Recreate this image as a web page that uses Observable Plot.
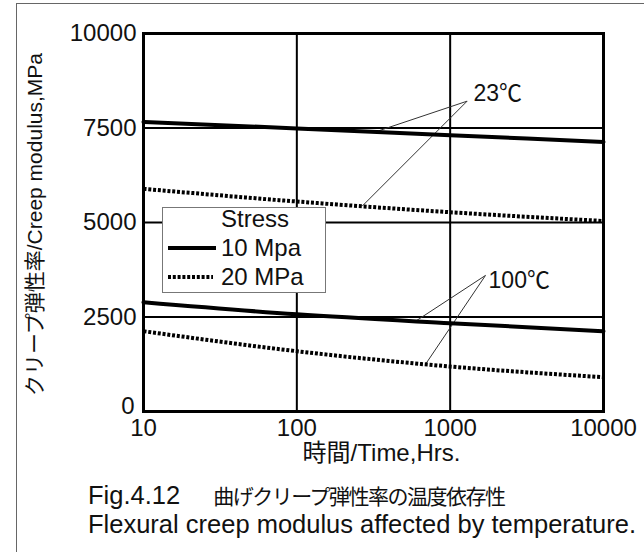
<!DOCTYPE html>
<html>
<head>
<meta charset="utf-8">
<script src="https://cdn.jsdelivr.net/npm/d3@7"></script>
<script src="https://cdn.jsdelivr.net/npm/@observablehq/plot@0.6"></script>
<style>
  body { margin: 0; background: #fff; }
  #fig { position: relative; width: 644px; height: 552px; overflow: hidden;
         font-family: "Liberation Sans", Arial, "Noto Sans CJK JP", sans-serif; color: #111; }
  #border { position: absolute; left: 16px; top: 3px; width: 700px; height: 700px;
            border-left: 1.5px solid #666; border-top: 1.5px solid #666; }
  #chart { position: absolute; left: 0; top: 0; }
  #legend { position: absolute; left: 162px; top: 207px; width: 164px; height: 86px;
            border: 1.5px solid #777; background: #fff; box-sizing: border-box; }
  #legend .t { position: absolute; font-size: 24px; line-height: 26px; white-space: nowrap; }
  #legend svg { position: absolute; }
  #caption { position: absolute; left: 88px; top: 481px; font-size: 25.5px; line-height: 29px; white-space: nowrap; }
  #caption .jp { font-family: "Noto Sans CJK JP", sans-serif; font-size: 21px; letter-spacing: -1.5px; margin-left: 33px; }
</style>
</head>
<body>
<div id="fig">
  <div id="border"></div>
  <div id="chart"></div>
  <div id="legend">
    <div class="t" style="left:58px;top:-2px;">Stress</div>
    <svg style="left:5px;top:36px" width="50" height="8"><line x1="0" x2="48" y1="4" y2="4" stroke="#000" stroke-width="4"/></svg>
    <div class="t" style="left:58px;top:27px;">10 Mpa</div>
    <svg style="left:5px;top:65px" width="50" height="8"><line x1="0" x2="45" y1="4" y2="4" stroke="#000" stroke-width="4" stroke-dasharray="3,1.8"/></svg>
    <div class="t" style="left:58px;top:56px;">20 MPa</div>
  </div>
  <div id="caption">
    <div>Fig.4.12<span class="jp">曲げクリープ弾性率の温度依存性</span></div>
    <div>Flexural creep modulus affected by temperature.</div>
  </div>
</div>
<script>
// Creep modulus (MPa) against time (hours) for two temperatures and two stress levels
const hours = [10, 100, 1000, 10000];
const modulus23C10 = [7660, 7490, 7310, 7130];
const modulus23C20 = [5890, 5555, 5272, 5040];
const modulus100C10 = [2890, 2570, 2336, 2124];
const modulus100C20 = [2124, 1595, 1190, 907];

const xTicks = [10, 100, 1000, 10000];
const yTicks = [2500, 5000, 7500, 10000];
const yZeroTick = [0];
const xGrid = [100, 1000];
const yGrid = [2500, 5000, 7500];

const xTitle = "時間/Time,Hrs.";
const yTitle = "クリープ弾性率/Creep modulus,MPa";

// Temperature callouts: label anchor, leader origin, and the times where leaders meet the curves
const tempNames = ["23℃", "100℃"];
const labelHours = [1420, 1780];
const labelMPa = [8420, 3470];
const leaderHours = [1290, 1700];
const leaderMPa = [8210, 3600];
const solidHitHours = [326, 595];
const dottedHitHours = [267, 692];

const series = [
  {stress: "10 MPa", temp: "23℃", values: modulus23C10},
  {stress: "20 MPa", temp: "23℃", values: modulus23C20},
  {stress: "10 MPa", temp: "100℃", values: modulus100C10},
  {stress: "20 MPa", temp: "100℃", values: modulus100C20}
];
const rows = series.flatMap(s => hours.map((h, i) => ({hours: h, modulus: s.values[i], stress: s.stress, temp: s.temp, key: s.temp + s.stress})));
const solidRows = rows.filter(d => d.stress === "10 MPa");
const dottedRows = rows.filter(d => d.stress === "20 MPa");

// value of a series at a given time, interpolated along log time
function valueAt(values, t) {
  const lt = Math.log10(t);
  for (let i = 0; i < hours.length - 1; i++) {
    const a = Math.log10(hours[i]), b = Math.log10(hours[i + 1]);
    if (lt >= a && lt <= b) return values[i] + (values[i + 1] - values[i]) * (lt - a) / (b - a);
  }
  return values[values.length - 1];
}
const solidByTemp = [modulus23C10, modulus100C10];
const dottedByTemp = [modulus23C20, modulus100C20];
const leaders = tempNames.flatMap((name, i) => [
  {x1: leaderHours[i], y1: leaderMPa[i], x2: solidHitHours[i], y2: valueAt(solidByTemp[i], solidHitHours[i])},
  {x1: leaderHours[i], y1: leaderMPa[i], x2: dottedHitHours[i], y2: valueAt(dottedByTemp[i], dottedHitHours[i])}
]);
const tempLabels = tempNames.map((name, i) => ({text: name, x: labelHours[i], y: labelMPa[i]}));

const fontStack = '"Liberation Sans", Arial, "Noto Sans CJK JP", sans-serif';

const chart = Plot.plot({
  width: 644,
  height: 480,
  marginLeft: 143,
  marginRight: 41,
  marginTop: 33,
  marginBottom: 69,
  style: {fontFamily: fontStack, color: "#111", background: "transparent"},
  x: {type: "log", domain: [10, 10000]},
  y: {domain: [0, 10000]},
  marks: [
    Plot.ruleX(xGrid, {stroke: "#000", strokeWidth: 2}),
    Plot.ruleY(yGrid, {stroke: "#000", strokeWidth: 2}),
    Plot.link(leaders, {x1: "x1", y1: "y1", x2: "x2", y2: "y2", stroke: "#333", strokeWidth: 1}),
    Plot.line(dottedRows, {x: "hours", y: "modulus", z: "key", stroke: "#000", strokeWidth: 4,
      strokeDasharray: "3,1.8", strokeLinecap: "butt", curve: "monotone-x"}),
    Plot.line(solidRows, {x: "hours", y: "modulus", z: "key", stroke: "#000", strokeWidth: 4, curve: "monotone-x"}),
    Plot.frame({stroke: "#000", strokeWidth: 3}),
    Plot.axisY(yTicks, {tickSize: 0, tickPadding: 7, fontSize: 24, tickFormat: d => String(d), label: null}),
    Plot.axisY(yZeroTick, {tickSize: 0, tickPadding: 9, dy: -5, fontSize: 24, tickFormat: d => String(d), label: null}),
    Plot.axisX(xTicks, {tickSize: 0, tickPadding: 7, fontSize: 24, tickFormat: d => String(d), label: null}),
    Plot.text([xTitle], {frameAnchor: "bottom", dx: 8, dy: 49, fontSize: 24}),
    Plot.text([yTitle], {frameAnchor: "left", textAnchor: "middle", rotate: -90, dx: -108, dy: 2, fontSize: 21}),
    Plot.text(tempLabels, {x: "x", y: "y", text: "text", textAnchor: "start", fontSize: 23})
  ]
});
document.getElementById("chart").appendChild(chart);
</script>
</body>
</html>
